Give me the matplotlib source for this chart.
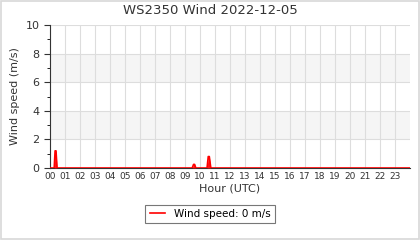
import matplotlib
matplotlib.use("Agg")
import matplotlib.pyplot as plt
from matplotlib.patches import Rectangle

# data: time (hours UTC) and wind speed (m/s)
hours = [0.0, 0.28, 0.34, 0.40, 0.47, 0.55, 9.48, 9.57, 9.64, 9.72, 10.47, 10.55, 10.62, 10.72, 24.0]
speeds = [0.0, 0.0, 1.2, 1.2, 0.0, 0.0, 0.0, 0.25, 0.25, 0.0, 0.0, 0.8, 0.8, 0.0, 0.0]
tick_hours = list(range(24))
tick_labels = [f"{h:02d}" for h in tick_hours]
title = "WS2350 Wind 2022-12-05"
legend_label = "Wind speed: 0 m/s"

fig = plt.figure(figsize=(4.2, 2.4), dpi=100)
fig.patch.set_facecolor("white")
fig.patches.append(Rectangle((0.002, 0.004), 0.996, 0.992, transform=fig.transFigure,
                             fill=False, edgecolor="#d8d8d8", linewidth=1.2))
ax = fig.add_axes([50/420, 1-168/240, 360/420, 143/240])
ax.set_xlim(0, 24)
ax.set_ylim(0, 10)
for lo, hi in [(2, 4), (6, 8)]:
    ax.axhspan(lo, hi, color="#f5f5f5", zorder=0, linewidth=0)
ax.set_xticks(tick_hours)
ax.set_xticklabels(tick_labels, fontsize=6.5, color="#333333")
ax.set_yticks([0, 2, 4, 6, 8, 10])
ax.set_yticks([1, 3, 5, 7, 9], minor=True)
ax.tick_params(axis="y", labelsize=8, colors="#333333", length=4)
ax.tick_params(axis="y", which="minor", length=2)
ax.tick_params(axis="x", length=0, pad=3)
ax.grid(True, which="major", color="#dddddd", linewidth=0.8, zorder=1)
ax.set_axisbelow(True)
for s in ["top", "right"]:
    ax.spines[s].set_visible(False)
ax.spines["left"].set_color("#333333")
ax.spines["bottom"].set_color("#333333")
ax.fill_between(hours, speeds, 0, color="red", alpha=0.9, linewidth=0, zorder=3)
ax.plot(hours, speeds, color="red", linewidth=1.2, zorder=4, label=legend_label)
fig.text(0.5, 1-11/240, title, fontsize=9.5, color="#333333", ha="center", va="center")
ax.set_xlabel("Hour (UTC)", fontsize=8, color="#333333", labelpad=2)
ax.set_ylabel("Wind speed (m/s)", fontsize=8, color="#333333")
leg = fig.legend(loc="center", bbox_to_anchor=(210/420, 1-214/240), fontsize=7.5,
                 frameon=True, fancybox=False, edgecolor="#555555", handlelength=1.5)
leg.get_frame().set_linewidth(0.8)
fig.savefig("out.png", dpi=100)
